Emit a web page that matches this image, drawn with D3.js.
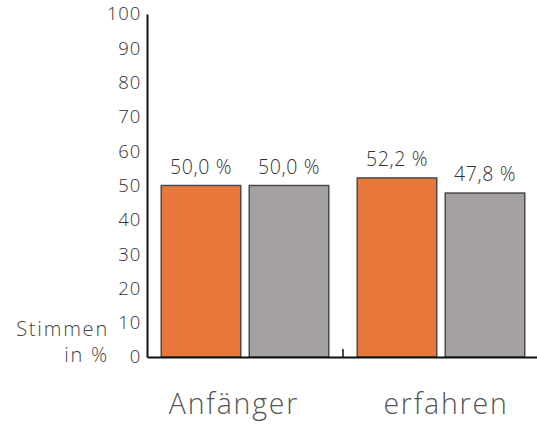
<!DOCTYPE html>
<html><head><meta charset="utf-8">
<script src="https://cdn.jsdelivr.net/npm/d3@7"></script>
<style>body{margin:0;background:#fff}svg{display:block}text{font-family:"Open Sans",sans-serif;font-weight:300}</style>
</head><body><svg id="c" width="537" height="430"></svg>
<script>
const categories = ["Anfänger", "erfahren"];
const seriesNames = ["A", "B"];
const seriesA = [50.0, 52.2];
const seriesB = [50.0, 47.8];
const yTicks = [0,10,20,30,40,50,60,70,80,90,100];
const colors = ["#E8793A", "#A6A1A1"];

const svg = d3.select("#c");
const x0 = d3.scaleBand().domain(categories).range([147, 539]).paddingInner(0).paddingOuter(0);
const x1 = d3.scaleBand().domain(seriesNames).range([0, x0.bandwidth()]).paddingInner(0.0966).paddingOuter(0.162);
const y = d3.scaleLinear().domain([0,100]).range([357, 14]);

const data = categories.map((c,i)=>({cat:c, vals:[{s:"A",v:seriesA[i]},{s:"B",v:seriesB[i]}]}));

const g = svg.append("g");
data.forEach(d=>{
  d.vals.forEach((e,j)=>{
    const bx = x0(d.cat)+x1(e.s);
    g.append("rect").attr("x",bx).attr("y",y(e.v)).attr("width",x1.bandwidth()).attr("height",y(0)-y(e.v))
      .attr("fill",colors[j]).attr("stroke","#4a4a4a").attr("stroke-width",1.5);
    g.append("text").attr("x",bx+x1.bandwidth()/2).attr("y",y(e.v)-12).attr("text-anchor","middle")
      .attr("font-size",19.5).attr("letter-spacing",0.6).attr("fill","#333").text(d3.format(".1f")(e.v).replace(".",",")+" %");
  });
});

// y axis
const ya = svg.append("g").attr("transform","translate(147,0)").call(d3.axisLeft(y).tickValues(yTicks).tickSize(0).tickPadding(6));
ya.select(".domain").attr("stroke","#111").attr("stroke-width",2);
ya.selectAll("text").attr("font-size",18.5).attr("fill","#333").attr("letter-spacing",0.8).style("font-family","'Open Sans',sans-serif");

// x axis
const xa = svg.append("g").attr("transform","translate(0,357)").call(d3.axisBottom(x0).tickSize(0).tickPadding(0).tickFormat(""));
xa.select(".domain").attr("stroke","#111").attr("stroke-width",2);
svg.append("line").attr("x1",x0(categories[1])).attr("x2",x0(categories[1])).attr("y1",357).attr("y2",349).attr("stroke","#111").attr("stroke-width",1.5);

const labelShift = [-11, 5];
categories.forEach((c,i)=>{
  svg.append("text").attr("x",x0(c)+x0.bandwidth()/2+labelShift[i]).attr("y",414).attr("text-anchor","middle")
    .attr("font-size",28.5).attr("letter-spacing",1.8).attr("fill","#555").text(c);
});

svg.append("text").attr("x",109).attr("y",336).attr("text-anchor","end").attr("font-size",20).attr("letter-spacing",1.8).attr("fill","#444").text("Stimmen");
svg.append("text").attr("x",109).attr("y",362).attr("text-anchor","end").attr("font-size",20).attr("letter-spacing",1.8).attr("fill","#444").text("in %");
</script></body></html>
